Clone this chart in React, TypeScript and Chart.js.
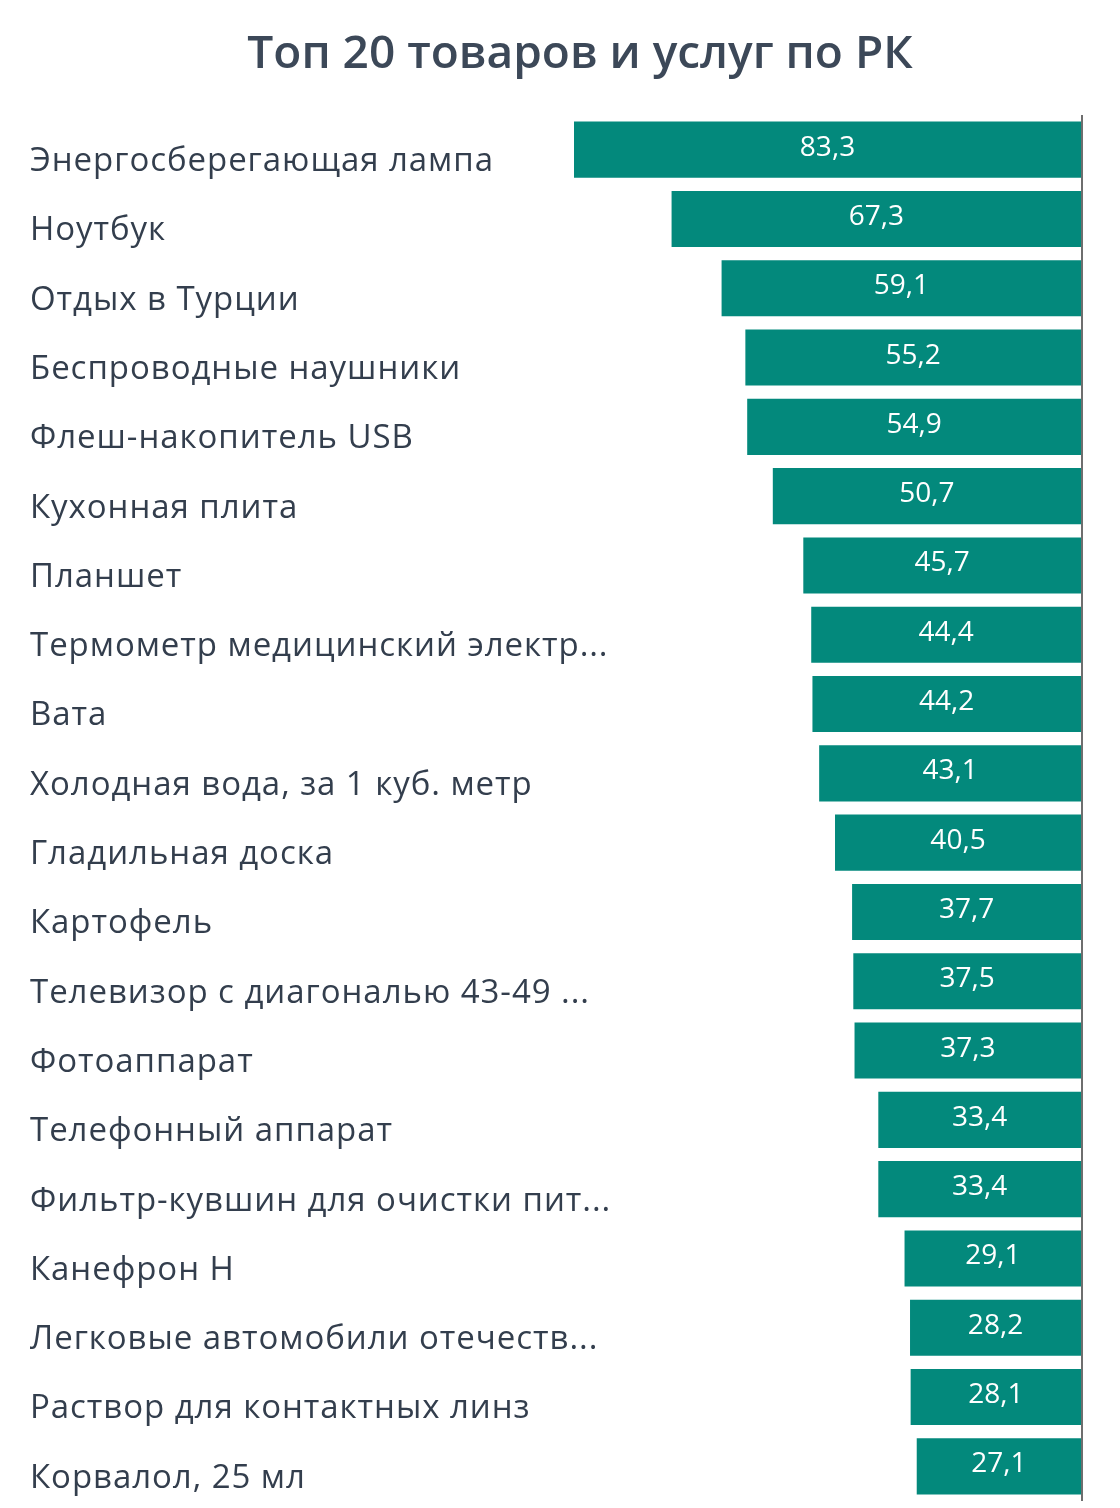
import React, { useEffect, useRef } from "react";
import { Chart, registerables } from "chart.js";

Chart.register(...registerables);

const titleText = "Топ 20 товаров и услуг по РК";

const categories = [
  "Энергосберегающая лампа",
  "Ноутбук",
  "Отдых в Турции",
  "Беспроводные наушники",
  "Флеш-накопитель USB",
  "Кухонная плита",
  "Планшет",
  "Термометр медицинский электр...",
  "Вата",
  "Холодная вода, за 1 куб. метр",
  "Гладильная доска",
  "Картофель",
  "Телевизор с диагональю 43-49 ...",
  "Фотоаппарат",
  "Телефонный аппарат",
  "Фильтр-кувшин для очистки пит...",
  "Канефрон Н",
  "Легковые автомобили отечеств...",
  "Раствор для контактных линз",
  "Корвалол, 25 мл",
];

const values = [
  83.3, 67.3, 59.1, 55.2, 54.9, 50.7, 45.7, 44.4, 44.2, 43.1, 40.5, 37.7, 37.5,
  37.3, 33.4, 33.4, 29.1, 28.2, 28.1, 27.1,
];

const axisMin = 0;
const axisMax = 83.3;

const BAR_COLOR = "#03897c";
const TEXT_COLOR = "#333e4d";
const TITLE_COLOR = "#3c4858";
const FONT = '"Open Sans", "Noto Sans", sans-serif';

const titlePlugin = {
  id: "customTitle",
  afterDraw(chart: any) {
    const ctx = chart.ctx;
    ctx.save();
    ctx.font = `600 46px ${FONT}`;
    ctx.fillStyle = TITLE_COLOR;
    ctx.textAlign = "center";
    ctx.textBaseline = "alphabetic";
    ctx.fillText(titleText, 580, 68);
    ctx.restore();
  },
};

const spacingPlugin = {
  id: "labelSpacing",
  beforeDraw(chart: any) {
    (chart.ctx as any).letterSpacing = "0.95px";
  },
  beforeDatasetsDraw(chart: any) {
    (chart.ctx as any).letterSpacing = "0px";
  },
};

const valueLabelPlugin = {
  id: "valueLabels",
  afterDatasetsDraw(chart: any) {
    const ctx = chart.ctx;
    const meta = chart.getDatasetMeta(0);
    ctx.save();
    ctx.font = `28px ${FONT}`;
    ctx.fillStyle = "#ffffff";
    ctx.textAlign = "center";
    ctx.textBaseline = "middle";
    meta.data.forEach((bar: any, i: number) => {
      const p = bar.getProps(["x", "y", "base"], true);
      const label = values[i].toFixed(1).replace(".", ",");
      ctx.fillText(label, (p.x + p.base) / 2, p.y - 2);
    });
    ctx.restore();
  },
};

const Y_AXIS_WIDTH = 544;

export default function App() {
  const canvasRef = useRef<HTMLCanvasElement | null>(null);

  useEffect(() => {
    if (!canvasRef.current) return;
    const chart = new Chart(canvasRef.current, {
      type: "bar",
      data: {
        labels: categories,
        datasets: [
          {
            data: values,
            backgroundColor: BAR_COLOR,
            borderWidth: 0,
            barPercentage: 0.81,
            categoryPercentage: 1,
          },
        ],
      },
      options: {
        indexAxis: "y",
        animation: false,
        responsive: true,
        maintainAspectRatio: false,
        layout: { padding: { left: 30, right: 38, top: 115, bottom: 7 } },
        plugins: {
          legend: { display: false },
          title: { display: false },
          tooltip: { enabled: false },
        },
        scales: {
          x: {
            reverse: true,
            min: axisMin,
            max: axisMax,
            ticks: { display: false, padding: 0 },
            border: { display: false },
            grid: {
              drawTicks: false,
              lineWidth: 2,
              color: (ctx: any) =>
                ctx.tick && ctx.tick.value === 0 ? "#6e6e6e" : "rgba(0,0,0,0)",
            },
            afterFit: (scale: any) => {
              scale.height = 0;
            },
          },
          y: {
            position: "left",
            grid: { display: false },
            border: { display: false },
            ticks: {
              autoSkip: false,
              mirror: true,
              crossAlign: "near",
              padding: -Y_AXIS_WIDTH,
              labelOffset: 12,
              color: TEXT_COLOR,
              font: { family: FONT, size: 33 },
            },
            afterFit: (scale: any) => {
              scale.width = Y_AXIS_WIDTH;
              scale.paddingTop = 0;
              scale.paddingBottom = 0;
            },
          },
        },
      },
      plugins: [spacingPlugin, titlePlugin, valueLabelPlugin],
    });
    return () => chart.destroy();
  }, []);

  return (
    <div style={{ position: "absolute", left: 0, top: 0, width: 1120, height: 1508, background: "#ffffff" }}>
      <canvas ref={canvasRef} />
    </div>
  );
}
